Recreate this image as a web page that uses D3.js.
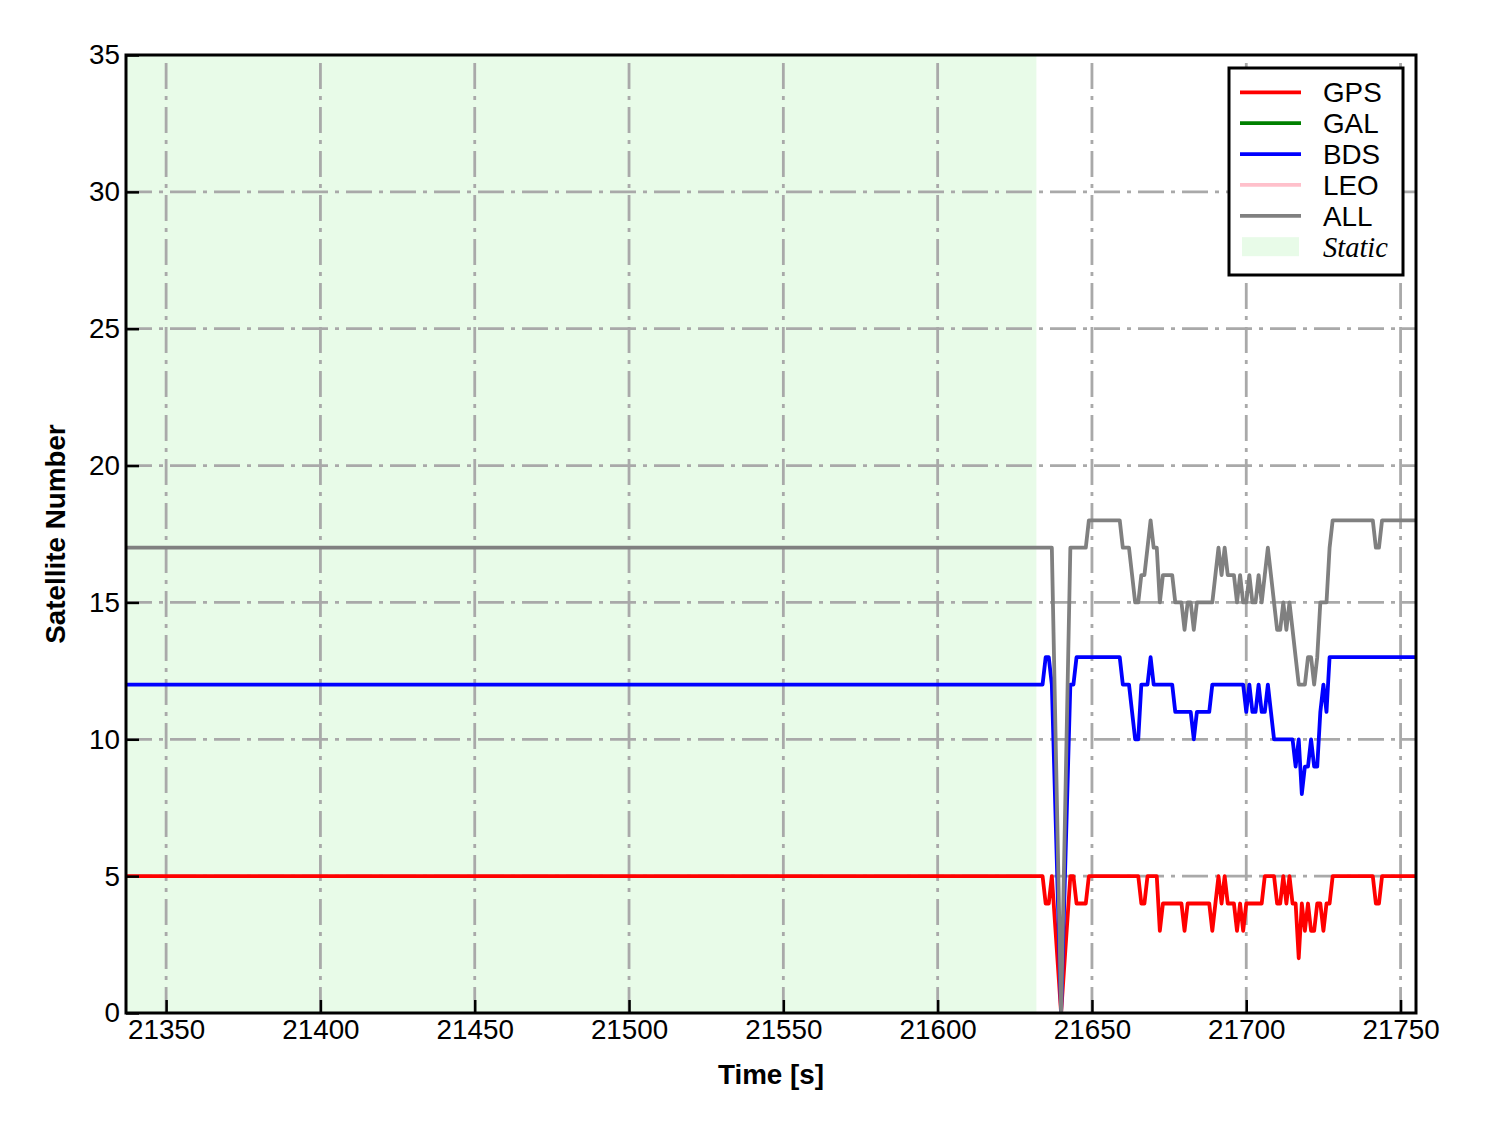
<!DOCTYPE html>
<html>
<head>
<meta charset="utf-8">
<script src="https://cdn.jsdelivr.net/npm/d3@7"></script>
<style>
  html, body { margin: 0; padding: 0; background: #fff; }
  svg { display: block; }
  text { font-family: "Liberation Sans", Arial, sans-serif; fill: #000; }
  text.serif { font-family: "Liberation Serif", "Times New Roman", serif; font-style: italic; }
</style>
</head>
<body>
<svg id="chart" width="1488" height="1133"></svg>
<script>
// ---------- data ----------
// sample times [s]: start of record, then 1-s samples around the dynamic part (gap during outage)
const time = [21337].concat(d3.range(21630, 21638), [21640], d3.range(21643, 21756));

const gps = [5,
  5,5,5,5,5,4,4,5,
  0,
  5,5,4,4,4,4,5,
  5,5,5,5,5,5,5,5,5,5,5,5,5,5,5,5,
  4,4,5,5,5,5,3,4,4,4,4,4,4,4,
  3,4,4,4,4,4,4,4,4,3,4,5,4,5,4,4,4,3,4,3,
  4,4,4,4,4,4,5,5,5,5,4,4,5,4,5,4,4,2,4,3,4,3,3,4,4,3,4,4,
  5,5,5,5,5,5,5,5,5,5,5,5,5,5,
  4,4,
  5,5,5,5,5,5,5,5,5,5,5,5];

const bds = [12,
  12,12,12,12,12,13,13,12,
  0,
  12,12,13,13,13,13,13,
  13,13,13,13,13,13,13,13,13,13,12,12,12,11,10,10,
  12,12,12,13,12,12,12,12,12,12,12,11,11,11,
  11,11,11,10,11,11,11,11,11,12,12,12,12,12,12,12,12,12,12,12,
  11,12,11,11,12,11,11,12,11,10,10,10,10,10,10,10,9,10,8,9,9,10,9,9,11,12,11,13,
  13,13,13,13,13,13,13,13,13,13,13,13,13,13,
  13,13,
  13,13,13,13,13,13,13,13,13,13,13,13];

const all = [17,
  17,17,17,17,17,17,17,17,
  0,
  17,17,17,17,17,17,18,
  18,18,18,18,18,18,18,18,18,18,17,17,17,16,15,15,
  16,16,17,18,17,17,15,16,16,16,16,15,15,15,
  14,15,15,14,15,15,15,15,15,15,16,17,16,17,16,16,16,15,16,15,
  15,16,15,15,16,15,16,17,16,15,14,14,15,14,15,14,13,12,12,12,13,13,12,13,15,15,15,17,
  18,18,18,18,18,18,18,18,18,18,18,18,18,18,
  17,17,
  18,18,18,18,18,18,18,18,18,18,18,18];

const gal = [];   // not present in this period
const leo = [];   // not present in this period

const staticPeriod = [21337, 21632];
const xTicks = [21350, 21400, 21450, 21500, 21550, 21600, 21650, 21700, 21750];
const yTicks = [0, 5, 10, 15, 20, 25, 30, 35];

const seriesNames = ["GPS", "GAL", "BDS", "LEO", "ALL"];
const seriesColors = ["#ff0000", "#008000", "#0000ff", "#ffc0cb", "#808080"];
const seriesValues = [gps, gal, bds, leo, all];

// ---------- layout ----------
const L = 126, R = 1416, T = 55, B = 1013;
const svg = d3.select("#chart");

const x = d3.scaleLinear().domain([21337, 21755]).range([L, R]);
const y = d3.scaleLinear().domain([0, 35]).range([B, T]);

svg.append("defs").append("clipPath").attr("id", "plotclip")
  .append("rect").attr("x", L).attr("y", T).attr("width", R - L).attr("height", B - T);

// static shading
svg.append("rect")
  .attr("x", x(staticPeriod[0])).attr("y", T)
  .attr("width", x(staticPeriod[1]) - x(staticPeriod[0])).attr("height", B - T)
  .attr("fill", "#e8fbe8");

// grid
const grid = svg.append("g").attr("stroke", "#a9a9a9").attr("stroke-width", 2.8)
  .attr("stroke-dasharray", "26,7,4,7").attr("fill", "none");
grid.selectAll("line.v").data(xTicks).join("line").attr("class", "v")
  .attr("x1", d => x(d)).attr("x2", d => x(d)).attr("y1", B).attr("y2", T);
grid.selectAll("line.h").data(yTicks.filter(d => d > 0 && d < 35)).join("line").attr("class", "h")
  .attr("y1", d => y(d)).attr("y2", d => y(d)).attr("x1", L).attr("x2", R);

// series lines
const lineGen = d3.line().x(d => x(d[0])).y(d => y(d[1]));
const plot = svg.append("g").attr("clip-path", "url(#plotclip)");
seriesValues.forEach((vals, i) => {
  if (!vals.length) return;
  const pts = vals.map((v, k) => [time[k], v]);
  plot.append("path").datum(pts)
    .attr("d", lineGen)
    .attr("fill", "none")
    .attr("stroke", seriesColors[i])
    .attr("stroke-width", 3.8)
    .attr("stroke-linejoin", "round");
});

// axes with inward ticks
const xAxis = d3.axisBottom(x).tickValues(xTicks).tickSizeInner(-13).tickSizeOuter(0).tickPadding(20).tickFormat(d3.format("d"));
const gx = svg.append("g").attr("transform", `translate(0,${B})`).call(xAxis);
gx.select(".domain").remove();
gx.selectAll(".tick line").attr("stroke", "#000").attr("stroke-width", 2.5);
gx.selectAll(".tick text").style("font-size", "27.8px").attr("fill", "#000").attr("dy", "0.71em").attr("y", 6);

const yAxis = d3.axisLeft(y).tickValues(yTicks).tickSizeInner(-13).tickSizeOuter(0).tickPadding(18);
const gy = svg.append("g").attr("transform", `translate(${L},0)`).call(yAxis);
gy.select(".domain").remove();
gy.selectAll(".tick line").attr("stroke", "#000").attr("stroke-width", 2.5);
gy.selectAll(".tick text").style("font-size", "27.8px").attr("fill", "#000").attr("x", -6);

// frame
svg.append("rect").attr("x", L).attr("y", T).attr("width", R - L).attr("height", B - T)
  .attr("fill", "none").attr("stroke", "#000").attr("stroke-width", 3);

// axis titles
svg.append("text").attr("x", (L + R) / 2).attr("y", 1084).attr("text-anchor", "middle")
  .style("font-size", "27.8px").style("font-weight", "bold").text("Time [s]");
svg.append("text").attr("transform", `translate(65,${(T + B) / 2}) rotate(-90)`)
  .attr("text-anchor", "middle").style("font-size", "27.8px").style("font-weight", "bold").text("Satellite Number");

// legend
const lg = svg.append("g");
lg.append("rect").attr("x", 1229).attr("y", 68).attr("width", 174).attr("height", 207)
  .attr("fill", "#fff").attr("stroke", "#000").attr("stroke-width", 3);
const rowY = d3.scaleLinear().domain([0, 5]).range([92.3, 246.7]);
seriesNames.forEach((name, i) => {
  lg.append("line").attr("x1", 1240).attr("x2", 1301).attr("y1", rowY(i)).attr("y2", rowY(i))
    .attr("stroke", seriesColors[i]).attr("stroke-width", 3.8);
  lg.append("text").attr("x", 1323).attr("y", rowY(i)).attr("dy", "0.36em")
    .style("font-size", "27.8px").text(name);
});
lg.append("rect").attr("x", 1242).attr("y", rowY(5) - 9.5).attr("width", 57).attr("height", 19)
  .attr("fill", "#e8fbe8");
lg.append("text").attr("class", "serif").attr("x", 1323).attr("y", rowY(5)).attr("dy", "0.36em")
  .style("font-size", "28.5px").text("Static");
</script>
</body>
</html>
